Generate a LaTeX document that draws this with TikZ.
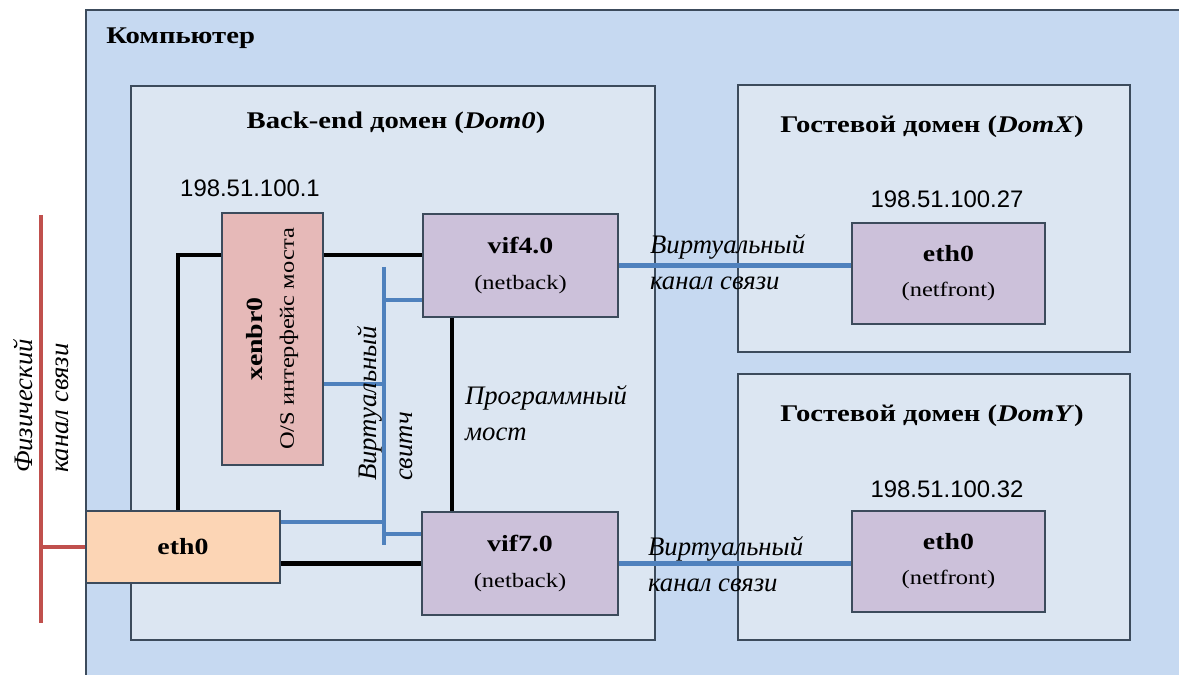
\documentclass[tikz,border=0pt]{standalone}
\usepackage{fontspec}
\setmainfont{Liberation Serif}[FakeStretch=1.2]
\newfontfamily\notefont{Liberation Serif}
\newfontfamily\ipfont{Liberation Sans}

\definecolor{compfill}{HTML}{C6D9F1}
\definecolor{domfill}{HTML}{DCE6F2}
\definecolor{edgegray}{HTML}{3C4B5C}
\definecolor{bridgefill}{HTML}{E6B9B8}
\definecolor{viffill}{HTML}{CCC1DA}
\definecolor{nicfill}{HTML}{FCD5B5}
\definecolor{linkblue}{HTML}{4F81BD}
\definecolor{physred}{HTML}{C0504D}

\newcommand{\subline}[1]{{\fontsize{14.5}{17}\selectfont #1}}

\begin{document}
\begin{tikzpicture}[
  x=0.025cm, y=-0.025cm,
  domainbox/.style={draw=edgegray, line width=1.1pt, fill=domfill, inner sep=0pt},
  box/.style={draw=edgegray, line width=1.1pt, inner sep=0pt, align=center,
    font=\fontsize{16.5}{20}\selectfont},
  title/.style={inner sep=0pt, font=\fontsize{17}{20}\selectfont\bfseries},
  ip/.style={inner sep=0pt, font=\ipfont\fontsize{17}{20}\selectfont},
  note/.style={inner sep=2pt, align=left, font=\notefont\itshape\fontsize{19}{26}\selectfont},
  wire/.style={draw=black, line width=3.2pt},
  vlink/.style={draw=linkblue, line width=3pt},
  plink/.style={draw=physred, line width=3pt}
]
\useasboundingbox (0,0) rectangle (1179,675);
\clip (0,0) rectangle (1179,675);
\fill[white] (0,0) rectangle (1179,675);

% computer and domains
\draw[domainbox, fill=compfill] (86,10) rectangle (1200,700);
\node[title, anchor=base west] (comptitle) at (106,44) {Компьютер};

\node[domainbox, minimum width=13.1cm, minimum height=13.85cm] (dom0) at (393,363) {};
\node[domainbox, minimum width=9.8cm, minimum height=6.675cm] (domx) at (934,218.5) {};
\node[domainbox, minimum width=9.8cm, minimum height=6.65cm] (domy) at (934,507) {};

\node[title, anchor=base] (dom0title) at (396,129) {Back-end домен (\textit{Dom0})};
\node[title, anchor=base] (domxtitle) at (932,133) {Гостевой домен (\textit{DomX})};
\node[title, anchor=base] (domytitle) at (932,422) {Гостевой домен (\textit{DomY})};

\node[ip, anchor=base] (ip0) at (250,197) {198.51.100.1};
\node[ip, anchor=base] (ipx) at (947,208) {198.51.100.27};
\node[ip, anchor=base] (ipy) at (947,497) {198.51.100.32};

% interfaces
\node[box, fill=bridgefill, minimum width=2.525cm, minimum height=6.3cm] (xenbr) at (272.5,339) {};
\node[box, draw=none, rotate=90] (xenbrtext) at (xenbr.center)
  {\textbf{xenbr0}\\[2pt]\subline{O/S интерфейс моста}};
\node[box, fill=viffill, minimum width=4.875cm, minimum height=2.575cm] (vif4) at (520.5,265.5)
  {\textbf{vif4.0}\\[5pt]\subline{(netback)}};
\node[box, fill=viffill, minimum width=4.9cm, minimum height=2.575cm] (vif7) at (520,563.5)
  {\textbf{vif7.0}\\[5pt]\subline{(netback)}};
\node[box, fill=nicfill, minimum width=4.85cm, minimum height=1.8cm] (eth0) at (183,547) {\textbf{eth0}};
\node[box, fill=viffill, minimum width=4.825cm, minimum height=2.525cm] (ethx) at (948.5,273.5)
  {\textbf{eth0}\\[5pt]\subline{(netfront)}};
\node[box, fill=viffill, minimum width=4.825cm, minimum height=2.525cm] (ethy) at (948.5,561.5)
  {\textbf{eth0}\\[5pt]\subline{(netfront)}};

% bridge wiring
\coordinate (bend) at (178,255);
\coordinate (brx) at (452,0);
\draw[wire] (xenbr.west |- bend) -- (bend) -- (bend |- eth0.north);
\draw[wire] (xenbr.east |- bend) -- (vif4.west |- bend);
\draw[wire] (brx |- vif4.south) -- (brx |- vif7.north);
\draw[wire] (eth0.east |- vif7.west) -- (vif7.west);

% virtual switch
\coordinate (swtop) at (384,267);
\coordinate (swbot) at (384,545);
\draw[vlink] (swtop) -- (swbot);
\draw[vlink] (384,300) -- (vif4.west |- 384,300);
\draw[vlink] (xenbr.east |- 384,384) -- (384,384);
\draw[vlink] (eth0.east |- 384,522) -- (384,522);
\draw[vlink] (384,534) -- (vif7.west |- 384,534);

% virtual links
\draw[vlink] (vif4.east) -- (ethx.west |- vif4.east);
\draw[vlink] (vif7.east) -- (ethy.west |- vif7.east);

% physical link
\coordinate (phystop) at (41,215);
\coordinate (physbot) at (41,623);
\draw[plink] (phystop) -- (physbot);
\draw[plink] (physbot |- eth0.west) -- (eth0.west);

% labels
\node[note, anchor=west] (vlabelx) at (647,262) {Виртуальный\\канал связи};
\node[note, anchor=west] (vlabely) at (645,564) {Виртуальный\\канал связи};
\node[note, anchor=west] (bridgelabel) at (462,413) {Программный\\мост};
\node[note, anchor=west, rotate=90] (switchlabel) at (385,484) {Виртуальный\\свитч};
\node[note, anchor=west, rotate=90] (physlabel) at (41,476) {Физический\\канал связи};
\end{tikzpicture}
\end{document}
